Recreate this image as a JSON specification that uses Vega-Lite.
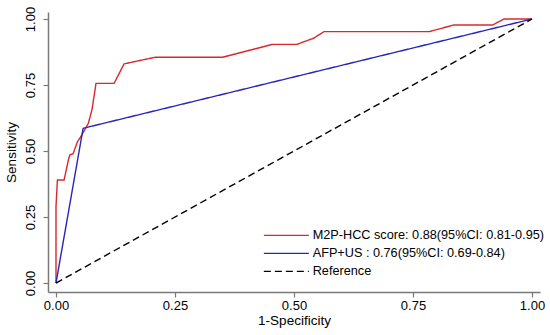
{
  "$schema": "https://vega.github.io/schema/vega-lite/v6.json",
  "width": 492,
  "height": 280,
  "autosize": "none",
  "padding": {"left": 48, "top": 12, "right": 10, "bottom": 43},
  "config": {
    "view": {"stroke": null},
    "font": "Liberation Sans",
    "axis": {"grid": false, "domainColor": "#7a7a7a", "domainWidth": 1.5, "tickColor": "#7a7a7a", "tickWidth": 1.2, "tickSize": 5, "labelFont": "Liberation Sans", "labelFontSize": 13, "labelColor": "#000", "titleFont": "Liberation Sans", "titleFontSize": 13.5, "titleFontWeight": "normal", "titleColor": "#000"},
    "legend": {"padding": 0}
  },
  "data": {
    "values": [
      {"fpr": 0, "tpr": 0, "series": "M2P-HCC score: 0.88(95%CI: 0.81-0.95)", "o": 1},
      {"fpr": 0, "tpr": 0.29, "series": "M2P-HCC score: 0.88(95%CI: 0.81-0.95)", "o": 2},
      {"fpr": 0.003, "tpr": 0.39, "series": "M2P-HCC score: 0.88(95%CI: 0.81-0.95)", "o": 3},
      {"fpr": 0.017, "tpr": 0.39, "series": "M2P-HCC score: 0.88(95%CI: 0.81-0.95)", "o": 4},
      {"fpr": 0.026, "tpr": 0.466, "series": "M2P-HCC score: 0.88(95%CI: 0.81-0.95)", "o": 5},
      {"fpr": 0.029, "tpr": 0.485, "series": "M2P-HCC score: 0.88(95%CI: 0.81-0.95)", "o": 6},
      {"fpr": 0.036, "tpr": 0.49, "series": "M2P-HCC score: 0.88(95%CI: 0.81-0.95)", "o": 7},
      {"fpr": 0.045, "tpr": 0.535, "series": "M2P-HCC score: 0.88(95%CI: 0.81-0.95)", "o": 8},
      {"fpr": 0.054, "tpr": 0.56, "series": "M2P-HCC score: 0.88(95%CI: 0.81-0.95)", "o": 9},
      {"fpr": 0.068, "tpr": 0.605, "series": "M2P-HCC score: 0.88(95%CI: 0.81-0.95)", "o": 10},
      {"fpr": 0.076, "tpr": 0.66, "series": "M2P-HCC score: 0.88(95%CI: 0.81-0.95)", "o": 11},
      {"fpr": 0.084, "tpr": 0.756, "series": "M2P-HCC score: 0.88(95%CI: 0.81-0.95)", "o": 12},
      {"fpr": 0.122, "tpr": 0.756, "series": "M2P-HCC score: 0.88(95%CI: 0.81-0.95)", "o": 13},
      {"fpr": 0.143, "tpr": 0.83, "series": "M2P-HCC score: 0.88(95%CI: 0.81-0.95)", "o": 14},
      {"fpr": 0.208, "tpr": 0.855, "series": "M2P-HCC score: 0.88(95%CI: 0.81-0.95)", "o": 15},
      {"fpr": 0.35, "tpr": 0.855, "series": "M2P-HCC score: 0.88(95%CI: 0.81-0.95)", "o": 16},
      {"fpr": 0.455, "tpr": 0.904, "series": "M2P-HCC score: 0.88(95%CI: 0.81-0.95)", "o": 17},
      {"fpr": 0.506, "tpr": 0.904, "series": "M2P-HCC score: 0.88(95%CI: 0.81-0.95)", "o": 18},
      {"fpr": 0.541, "tpr": 0.927, "series": "M2P-HCC score: 0.88(95%CI: 0.81-0.95)", "o": 19},
      {"fpr": 0.563, "tpr": 0.952, "series": "M2P-HCC score: 0.88(95%CI: 0.81-0.95)", "o": 20},
      {"fpr": 0.784, "tpr": 0.952, "series": "M2P-HCC score: 0.88(95%CI: 0.81-0.95)", "o": 21},
      {"fpr": 0.835, "tpr": 0.977, "series": "M2P-HCC score: 0.88(95%CI: 0.81-0.95)", "o": 22},
      {"fpr": 0.917, "tpr": 0.977, "series": "M2P-HCC score: 0.88(95%CI: 0.81-0.95)", "o": 23},
      {"fpr": 0.941, "tpr": 1.0, "series": "M2P-HCC score: 0.88(95%CI: 0.81-0.95)", "o": 24},
      {"fpr": 1.0, "tpr": 1.0, "series": "M2P-HCC score: 0.88(95%CI: 0.81-0.95)", "o": 25},
      {"fpr": 0, "tpr": 0, "series": "AFP+US : 0.76(95%CI: 0.69-0.84)", "o": 1},
      {"fpr": 0.057, "tpr": 0.586, "series": "AFP+US : 0.76(95%CI: 0.69-0.84)", "o": 2},
      {"fpr": 1.0, "tpr": 1.0, "series": "AFP+US : 0.76(95%CI: 0.69-0.84)", "o": 3},
      {"fpr": 0, "tpr": 0, "series": "Reference", "o": 1},
      {"fpr": 1.0, "tpr": 1.0, "series": "Reference", "o": 2}
    ]
  },
  "mark": {"type": "line", "strokeWidth": 1.4, "clip": false},
  "encoding": {
    "x": {"field": "fpr", "type": "quantitative", "title": "1-Specificity",
      "scale": {"domain": [-0.0168, 1.0168], "nice": false, "zero": false},
      "axis": {"values": [0, 0.25, 0.5, 0.75, 1], "format": ".2f", "labelPadding": 2, "titlePadding": 1}},
    "y": {"field": "tpr", "type": "quantitative", "title": "Sensitivity",
      "scale": {"domain": [-0.034, 1.0265], "nice": false, "zero": false},
      "axis": {"values": [0, 0.25, 0.5, 0.75, 1], "format": ".2f", "labelAngle": 270, "labelAlign": "center", "labelBaseline": "bottom", "labelPadding": 6, "titlePadding": 6}},
    "order": {"field": "o", "type": "quantitative"},
    "color": {"field": "series", "type": "nominal",
      "scale": {"domain": ["M2P-HCC score: 0.88(95%CI: 0.81-0.95)", "AFP+US : 0.76(95%CI: 0.69-0.84)", "Reference"], "range": ["#d8282c", "#2626b8", "#000000"]},
      "legend": {"title": null, "orient": "none", "legendX": 232, "legendY": 217, "symbolType": "M-4.5,0H4.5", "symbolSize": 100, "symbolStrokeWidth": 1.2, "labelFontSize": 12.7, "labelFont": "Liberation Sans", "labelLimit": 400, "labelOffset": 20, "rowPadding": 4}},
    "strokeDash": {"field": "series", "type": "nominal",
      "scale": {"domain": ["M2P-HCC score: 0.88(95%CI: 0.81-0.95)", "AFP+US : 0.76(95%CI: 0.69-0.84)", "Reference"], "range": [[1, 0], [1, 0], [7, 4]]},
      "legend": {"title": null, "orient": "none", "legendX": 232, "legendY": 217, "symbolType": "M-4.5,0H4.5", "symbolSize": 100, "symbolStrokeWidth": 1.2, "labelFontSize": 12.7, "labelFont": "Liberation Sans", "labelLimit": 400, "labelOffset": 20, "rowPadding": 4}}
  }
}
